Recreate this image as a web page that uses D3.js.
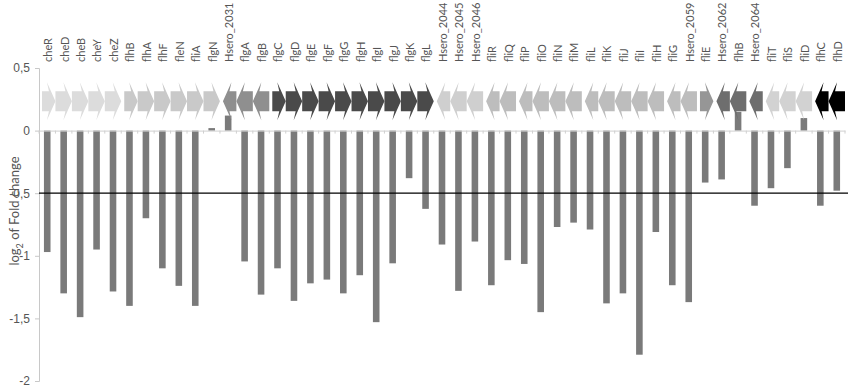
<!DOCTYPE html>
<html>
<head>
<meta charset="utf-8">
<script src="https://cdn.jsdelivr.net/npm/d3@7"></script>
<style>
  body { margin: 0; background: #fff; }
  svg { display: block; font-family: Lato, "Open Sans", sans-serif; }
</style>
</head>
<body>
<svg id="chart"></svg>
<script>
// genes, in genome order
const genes = ['cheR','cheD','cheB','cheY','cheZ','flhB','flhA','flhF','fleN','fliA','flgN','Hsero_2031','flgA','flgB',
  'flgC','flgD','flgE','flgF','flgG','flgH','flgI','flgJ','flgK','flgL','Hsero_2044','Hsero_2045','Hsero_2046',
  'fliR','fliQ','fliP','fliO','fliN','fliM','fliL','fliK','fliJ','fliI','fliH','fliG','Hsero_2059','fliE',
  'Hsero_2062','flhB','Hsero_2064','fliT','fliS','fliD','flhC','flhD'];

// log2 fold change
const values = [-0.97,-1.30,-1.49,-0.95,-1.285,-1.40,-0.70,-1.10,-1.24,-1.40,0.02,0.12,-1.045,-1.31,
  -1.10,-1.36,-1.22,-1.19,-1.30,-1.155,-1.53,-1.06,-0.38,-0.625,-0.91,-1.28,-0.886,
  -1.235,-1.035,-1.065,-1.45,-0.77,-0.735,-0.79,-1.38,-1.30,-1.79,-0.81,-1.235,-1.37,-0.415,
  -0.39,0.15,-0.60,-0.46,-0.30,0.10,-0.60,-0.48];

// gene orientation (1 = forward, -1 = reverse) and operon group
const strand = [1,1,1,1,1,1,1,1,1,1,1,-1,-1,-1,
  1,1,1,1,1,1,1,1,1,1,-1,-1,-1,
  -1,-1,-1,-1,-1,-1,-1,-1,-1,-1,-1,-1,-1,1,
  -1,-1,-1,-1,-1,-1,-1,-1];
const operon = [1,1,1,1,1,2,2,2,2,2,2,3,3,3,
  4,4,4,4,4,4,4,4,4,4,5,5,5,
  6,6,7,7,7,7,8,8,8,8,8,9,9,10,
  11,11,12,13,13,13,14,14];
const operonShade = {1:'#dcdcdc',2:'#c9c9c9',3:'#8f8f8f',4:'#4a4a4a',5:'#cfcfcf',6:'#bdbdbd',7:'#bdbdbd',
  8:'#bdbdbd',9:'#bdbdbd',10:'#969696',11:'#6e6e6e',12:'#6e6e6e',13:'#d2d2d2',14:'#000000'};

const yTicks = [0.5, 0, -0.5, -1, -1.5, -2];
const cutoff = -0.5;

const W = 851, H = 388;
const mLeft = 39, mRight = 845, mTop = 68, mBottom = 381;

const svg = d3.select('#chart').attr('width', W).attr('height', H);

const x = d3.scaleBand()
  .domain(d3.range(genes.length))
  .range([mLeft, mRight])
  .paddingInner(0.6)
  .paddingOuter(0.3);

const xb = d3.scaleBand()
  .domain(d3.range(genes.length))
  .range([mLeft, mRight]);

const y = d3.scaleLinear()
  .domain([-2, 0.5])
  .range([mBottom, mTop]);

// y axis
const yAxis = svg.append('g')
  .attr('transform', `translate(${mLeft},0)`)
  .call(d3.axisLeft(y).tickValues(yTicks).tickSize(4).tickPadding(5)
    .tickFormat(d => String(d).replace('.', ',')));
yAxis.select('.domain').attr('stroke', '#c8c8c8');
yAxis.selectAll('.tick line').attr('stroke', '#c8c8c8');
yAxis.selectAll('.tick text').attr('fill', '#555').style('font-size', '12px');

// bars
svg.append('g')
  .selectAll('rect')
  .data(values)
  .join('rect')
  .attr('x', (d, i) => x(i))
  .attr('width', x.bandwidth())
  .attr('y', d => y(Math.max(0, d)))
  .attr('height', d => Math.abs(y(d) - y(0)))
  .attr('fill', '#7a7a7a');

// zero axis with category ticks
const xAxis = svg.append('g')
  .attr('transform', `translate(0,${y(0)})`)
  .call(d3.axisBottom(xb).tickSize(0).tickFormat(''));
xAxis.select('.domain').attr('stroke', '#d0d0d0');
svg.append('g')
  .selectAll('line')
  .data(d3.range(genes.length + 1))
  .join('line')
  .attr('x1', i => mLeft + i * xb.step())
  .attr('x2', i => mLeft + i * xb.step())
  .attr('y1', y(0))
  .attr('y2', y(0) + 3)
  .attr('stroke', '#d0d0d0');

// cutoff line
svg.append('line')
  .attr('x1', mLeft).attr('x2', 848)
  .attr('y1', y(cutoff)).attr('y2', y(cutoff))
  .attr('stroke', '#000').attr('stroke-width', 1.3);

// gene arrows
const yc = y(0.235);
function arrowPath(x0, x1, dir) {
  const head = 6.5, sh = 10, hh = 19, sweep = 2;
  if (dir > 0) {
    const hx = x1 - head;
    return `M${x0},${yc - sh}L${hx},${yc - sh}L${hx - sweep},${yc - hh}L${x1},${yc}L${hx - sweep},${yc + hh}L${hx},${yc + sh}L${x0},${yc + sh}Z`;
  }
  const hx = x0 + head;
  return `M${x1},${yc - sh}L${hx},${yc - sh}L${hx + sweep},${yc - hh}L${x0},${yc}L${hx + sweep},${yc + hh}L${hx},${yc + sh}L${x1},${yc + sh}Z`;
}
svg.append('g')
  .selectAll('path')
  .data(genes)
  .join('path')
  .attr('d', (g, i) => {
    const startGap = (i === 0 || operon[i - 1] !== operon[i]) ? 3 : 0;
    return arrowPath(xb(i) + startGap, xb(i) + xb.step(), strand[i]);
  })
  .attr('fill', (g, i) => operonShade[operon[i]]);

// gene labels
svg.append('g')
  .selectAll('text')
  .data(genes)
  .join('text')
  .attr('transform', (g, i) => `translate(${xb(i) + xb.step() / 2 + 1},62) rotate(-90)`)
  .attr('dy', '0.35em')
  .attr('text-anchor', 'start')
  .attr('fill', '#555')
  .style('font-size', '11px')
  .text(g => g);

// y title
const title = svg.append('text')
  .attr('transform', 'translate(19,211) rotate(-90)')
  .attr('text-anchor', 'middle')
  .attr('fill', '#555')
  .style('font-size', '13px');
title.append('tspan').text('log');
title.append('tspan').attr('dy', 4).style('font-size', '9px').text('2');
title.append('tspan').attr('dy', -4).text(' of Fold change');
</script>
</body>
</html>
